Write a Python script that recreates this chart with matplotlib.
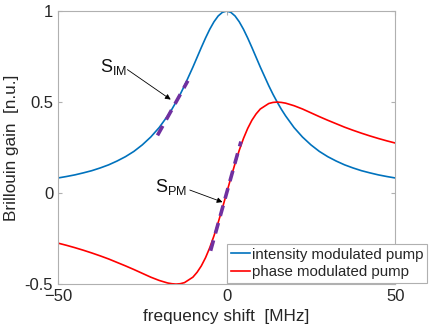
import matplotlib
matplotlib.use("Agg")
import matplotlib.pyplot as plt

# data
freq = [-50, -47.5, -45, -42.5, -40, -37.5, -35, -32.5, -30, -27.5, -25, -22.5, -20,
        -17.5, -16.25, -15, -13.75, -12.5, -10, -8.75, -7.5, -6.25, -5, -3.75, -2.5, -1.25,
        0, 1.25, 2.5, 3.75, 5, 6.25, 7.5, 8.75, 10, 12.5, 13.75, 15, 16.25, 17.5,
        20, 22.5, 25, 27.5, 30, 32.5, 35, 37.5, 40, 42.5, 45, 47.5, 50]
gain_im = [0.083, 0.091, 0.100, 0.111, 0.123, 0.138, 0.155, 0.176, 0.200, 0.229, 0.265, 0.308, 0.360,
           0.424, 0.460, 0.500, 0.543, 0.590, 0.692, 0.746, 0.800, 0.852, 0.900, 0.941, 0.973, 0.993,
           1.000, 0.993, 0.973, 0.941, 0.900, 0.852, 0.800, 0.746, 0.692, 0.590, 0.543, 0.500, 0.460, 0.424,
           0.360, 0.308, 0.265, 0.229, 0.200, 0.176, 0.155, 0.138, 0.123, 0.111, 0.100, 0.091, 0.083]
gain_pm = [-0.275, -0.287, -0.300, -0.314, -0.329, -0.345, -0.362, -0.381, -0.400, -0.420, -0.441, -0.462, -0.480,
           -0.494, -0.498, -0.500, -0.498, -0.492, -0.462, -0.435, -0.400, -0.355, -0.300, -0.235, -0.162, -0.083,
           0.000, 0.083, 0.162, 0.235, 0.300, 0.355, 0.400, 0.435, 0.462, 0.492, 0.498, 0.500, 0.498, 0.494,
           0.480, 0.462, 0.441, 0.420, 0.400, 0.381, 0.362, 0.345, 0.329, 0.314, 0.300, 0.287, 0.275]

# tangent (slope) segments
tan_im_x = [-20.5, -11.5]
tan_im_y = [0.317, 0.617]
tan_pm_x = [-4.75, 4.25]
tan_pm_y = [-0.317, 0.283]

xticks = [-50, 0, 50]
yticks = [-0.5, 0, 0.5, 1]
ytick_labels = ["-0.5", "0", "0.5", "1"]

plt.rcParams["font.family"] = ["Liberation Sans", "DejaVu Sans"]
plt.rcParams["mathtext.fontset"] = "custom"
plt.rcParams["mathtext.rm"] = "Liberation Sans"
plt.rcParams["mathtext.it"] = "Liberation Sans"

fig = plt.figure(figsize=(4.3, 3.35), dpi=100)
ax = fig.add_axes([0.135, 0.152, 0.784, 0.815])

ax.plot(freq, gain_im, color="#0072BD", lw=1.2, label="intensity modulated pump")
ax.plot(freq, gain_pm, color="#FF0000", lw=1.2, label="phase modulated pump")
ax.plot(tan_im_x, tan_im_y, color="#7030A0", lw=2.6, ls=(0, (3, 2)))
ax.plot(tan_pm_x, tan_pm_y, color="#7030A0", lw=2.6, ls=(0, (3, 2)))

ax.annotate("", xy=(-15.9, 0.505), xytext=(-30.1, 0.687),
            arrowprops=dict(arrowstyle="-|>", color="black", lw=0.6, mutation_scale=8))
ax.text(-37.5, 0.69, r"$\mathregular{S_{IM}}$", fontsize=13, ha="left", va="center", color="#111111")
ax.annotate("", xy=(-0.45, -0.055), xytext=(-11.7, 0.022),
            arrowprops=dict(arrowstyle="-|>", color="black", lw=0.6, mutation_scale=8))
ax.text(-21.2, 0.035, r"$\mathregular{S_{PM}}$", fontsize=13, ha="left", va="center", color="#111111")

ax.set_xlim(-50, 50)
ax.set_ylim(-0.5, 1)
ax.set_xticks(xticks)
ax.set_yticks(yticks)
ax.set_yticklabels(ytick_labels)
ax.tick_params(direction="in", length=3, color="#b0b0b0", labelsize=12,
               labelcolor="#262626", top=True, right=True)
for s in ax.spines.values():
    s.set_color("#b0b0b0")
    s.set_linewidth(0.8)

ax.set_xlabel("frequency shift  [MHz]", fontsize=12.3, color="#262626")
ax.set_ylabel("Brillouin gain  [n.u.]", fontsize=12.3, color="#262626")

leg = ax.legend(loc="lower left", bbox_to_anchor=(0.528, 0.155), bbox_transform=fig.transFigure,
                borderaxespad=0, fontsize=10.8, handlelength=1.25, handletextpad=0.15,
                borderpad=0.25, labelspacing=0.25, fancybox=False, framealpha=1)
leg.get_frame().set_edgecolor("#b0b0b0")
leg.get_frame().set_linewidth(0.8)
for t in leg.get_texts():
    t.set_color("#262626")

fig.savefig("out.png", dpi=100)
